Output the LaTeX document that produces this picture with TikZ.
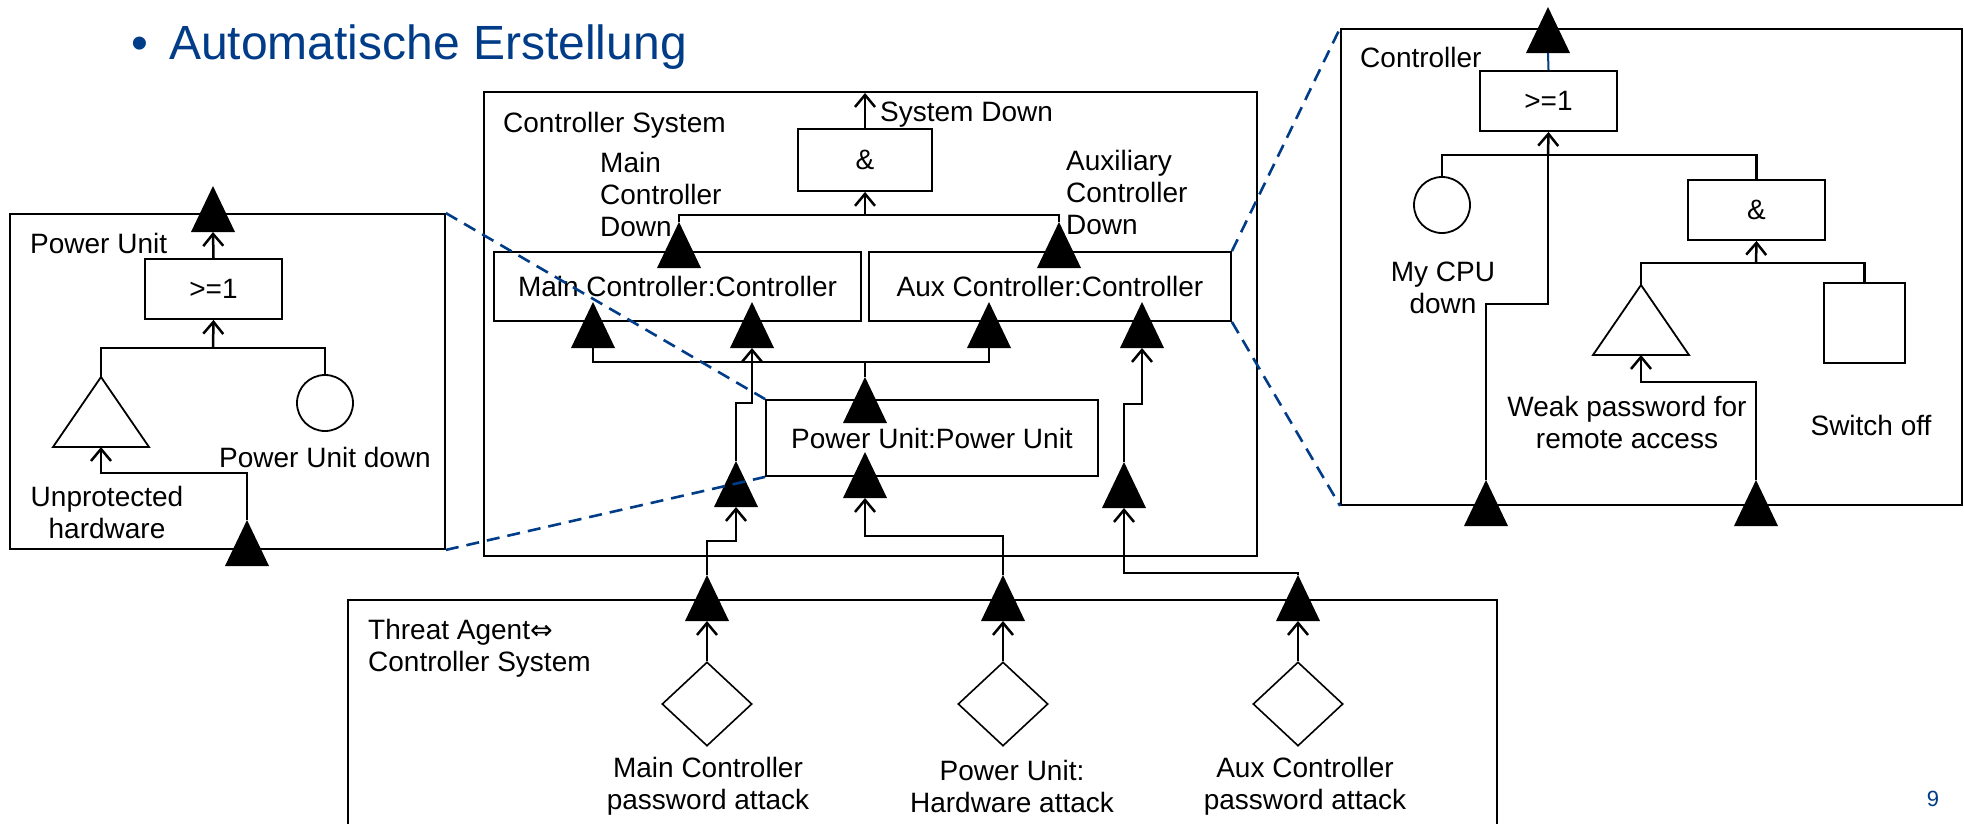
\documentclass[tikz,border=0pt]{standalone}
\usepackage{fontspec}
\setmainfont{Liberation Sans}
\newfontfamily\djv{DejaVu Sans}
\usetikzlibrary{arrows.meta,shapes.geometric}
\definecolor{tblue}{RGB}{0,60,135}
\newcommand\portup[3]{%
  \coordinate (#1) at (#2,#3);
  \coordinate (#1-b) at (#2,#3+46);
  \fill (#2-22,#3+46) -- (#1) -- (#2+22,#3+46) -- cycle;}
\newcommand\opentri[3]{%
  \coordinate (#1) at (#2,#3);
  \coordinate (#1-b) at (#2,#3+70);
  \draw[shapeline] (#2-48,#3+70) -- (#1) -- (#2+48,#3+70) -- cycle;}
\tikzset{
  every node/.style={font=\fontsize{28}{32}\selectfont, inner sep=0pt},
  cframe/.style={draw, line width=1.8pt, inner sep=0pt},
  gate/.style={draw, line width=1.8pt, inner sep=0pt, minimum width=137pt, minimum height=60pt},
  conn/.style={line width=2.5pt},
  arr/.style={conn, -{Straight Barb[length=12pt,width=20pt]}},
  shapeline/.style={draw, line width=1.8pt},
  diam/.style={draw, diamond, line width=1.6pt, minimum width=90pt, minimum height=84pt, inner sep=0pt},
  dashblue/.style={draw=tblue, line width=2.6pt, dash pattern=on 13pt off 8pt},
  titletext/.style={font=\fontsize{48}{56}\selectfont, text=tblue}
}
\begin{document}
\begin{tikzpicture}[x=1pt,y=-1pt]
\useasboundingbox (0,0) rectangle (1964,823);
\fill[white] (0,0) rectangle (1964,823);

% title and page number
\node[titletext, anchor=base] (bul) at (140,59) {\textbullet};
\node[titletext, anchor=base west] (title) at (169,59) {Automatische Erstellung};
\node[font=\fontsize{22}{22}\selectfont, text=tblue, anchor=base] (pg) at (1933,806) {9};

% ---------- left: Power Unit ----------
\node[cframe, minimum width=435pt, minimum height=335pt] (PUL) at (227.5,381.5) {};
\node[anchor=base west] (PULt) at (30,253) {Power Unit};
\portup{PULo}{213}{186}
\node[gate] (PULor) at (213.5,289) {>=1};
\draw[arr] (PULor.north) -- (PULo-b);
\opentri{PULtr}{101}{377}
\node[shapeline, circle, minimum size=56pt] (PULc) at (325,403) {};
\coordinate (PULbus) at (213,348);
\draw[conn] (PULtr) |- (PULbus) -| (PULc.north);
\draw[arr] (PULbus) -- (PULor.south);
\node[anchor=base] (PULct) at (325,467) {Power Unit down};
\portup{PULi}{247}{520}
\coordinate (PULk) at (101,473);
\draw[arr] (PULi) |- (PULk) -- (PULtr-b);
\node[align=center] (PULtt) at (107,512) {Unprotected\\hardware};

% ---------- middle: Controller System ----------
\node[cframe, minimum width=773pt, minimum height=464pt] (CS) at (870.5,324) {};
\node[anchor=base west] (CSt) at (503,132) {Controller System};
\node[gate, minimum width=134pt, minimum height=62pt] (CSand) at (865,160) {\&};
\coordinate (CSsd) at (865,93);
\draw[arr] (CSand.north) -- (CSsd);
\node[anchor=base west] (CSsdt) at (880,121) {System Down};
\node[align=left, anchor=west] (CSmd) at (600,194) {Main\\Controller\\Down};
\node[align=left, anchor=west] (CSad) at (1066,192) {Auxiliary\\Controller\\Down};
\node[cframe, minimum width=367pt, minimum height=69pt] (MC) at (677.5,286.5) {Main Controller:Controller};
\node[cframe, minimum width=362pt, minimum height=69pt] (AC) at (1050,286.5) {Aux Controller:Controller};
\portup{MCo}{679}{222}
\portup{ACo}{1059}{222}
\coordinate (CSbus) at (865,215);
\draw[conn] (MCo) |- (CSbus) -| (ACo);
\draw[arr] (CSbus) -- (CSand.south);
\portup{MCi1}{593}{302}
\portup{MCi2}{752}{302}
\portup{ACi1}{989}{302}
\portup{ACi2}{1142}{302}
\node[cframe, minimum width=332pt, minimum height=76pt] (PUM) at (932,438) {Power Unit:Power Unit};
\portup{PUMo}{865}{377}
\portup{PUMi}{865}{452}
\coordinate (PUbus) at (865,362);
\draw[conn] (MCi1-b) |- (PUbus) -| (ACi1-b);
\draw[conn] (PUbus) -- (PUMo);
\portup{P1}{736}{461}
\portup{P2}{1124}{462}
\coordinate (k1) at (752,403);
\draw[arr] (P1) |- (k1) -- (MCi2-b);
\coordinate (k2) at (1142,404);
\draw[arr] (P2) |- (k2) -- (ACi2-b);

% ---------- bottom: Threat Agent ----------
\node[cframe, line width=1.5pt, minimum width=1149pt, minimum height=260pt] (TA) at (922.5,730) {};
\node[align=left, anchor=west] (TAt) at (368,648) {Threat Agent{\djv\fontsize{27}{27}\selectfont ⇔}\\Controller System};
\portup{T1}{707}{575}
\portup{T2}{1003}{575}
\portup{T3}{1298}{575}
\coordinate (k3) at (736,541);
\draw[arr] (T1) |- (k3) -- (P1-b);
\coordinate (k4) at (865,536);
\draw[arr] (T2) |- (k4) -- (PUMi-b);
\coordinate (k5) at (1124,573);
\draw[arr] (T3) |- (k5) -- (P2-b);
\node[diam] (D1) at (707,704) {};
\node[diam] (D2) at (1003,704) {};
\node[diam] (D3) at (1298,704) {};
\draw[arr] (D1.north) -- (T1-b);
\draw[arr] (D2.north) -- (T2-b);
\draw[arr] (D3.north) -- (T3-b);
\node[align=center] (D1t) at (708,786) {Main Controller\\password attack};
\node[align=center] (D2t) at (1012,786) {Power Unit:\\Hardware attack};
\node[align=center] (D3t) at (1305,786) {Aux Controller\\password attack};

% ---------- right: Controller ----------
\node[cframe, minimum width=621pt, minimum height=476pt] (CF) at (1651.5,267) {};
\node[anchor=base west] (CFt) at (1360,67) {Controller};
\portup{CFo}{1548}{7}
\node[gate] (CFor) at (1548.5,101) {>=1};
\draw[line width=2pt, tblue] (CFor.north) -- (CFo-b);
\node[shapeline, circle, minimum size=56pt] (CFc) at (1442,205) {};
\node[gate] (CFand) at (1756.5,210) {\&};
\coordinate (CFbus) at (1548,155);
\draw[conn] (CFc.north) |- (CFbus) -| (CFand.north);
\draw[arr] (CFbus) -- (CFor.south);
\node[align=center] (CFct) at (1443,288) {My CPU\\down};
\portup{CFi1}{1486}{480}
\coordinate (CFk1) at (1548,304);
\draw[conn] (CFi1) |- (CFk1) -- (CFbus);
\opentri{CFtr}{1641}{285}
\node[shapeline, minimum width=81pt, minimum height=80pt] (CFsq) at (1864.5,323) {};
\coordinate (CFbus2) at (1756,263);
\draw[conn] (CFtr) |- (CFbus2) -| (CFsq.north);
\draw[arr] (CFbus2) -- (CFand.south);
\portup{CFi2}{1756}{480}
\coordinate (CFk2) at (1641,382);
\draw[arr] (CFi2) |- (CFk2) -- (CFtr-b);
\node[align=center] (CFwt) at (1627,422) {Weak password for\\remote access};
\node[anchor=base] (CFst) at (1871,435) {Switch off};

% ---------- zoom lines ----------
\draw[dashblue] (PUL.north east) -- (PUM.north west);
\draw[dashblue] (PUL.south east) -- (PUM.south west);
\draw[dashblue] (AC.north east) -- (CF.north west);
\draw[dashblue] (AC.south east) -- (CF.south west);
\end{tikzpicture}
\end{document}
